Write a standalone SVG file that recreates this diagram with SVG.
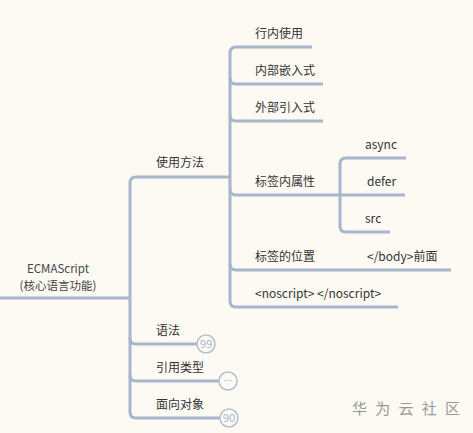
<svg xmlns="http://www.w3.org/2000/svg" width="473" height="433" viewBox="0 0 473 433">
<style>
.ln{fill:none;stroke:#a7b6ca;stroke-width:3;stroke-linecap:butt}
.t{font-family:"Noto Sans CJK SC","Microsoft YaHei",sans-serif;font-size:12px;fill:#333}
.c{fill:#fdfaf3;stroke:#b3c0d3;stroke-width:1.5}
.ct{font-family:"Noto Sans",sans-serif;font-size:11px;fill:#a9b6c9;text-anchor:middle}
.wm{font-family:"Noto Sans CJK SC",sans-serif;font-size:15px;fill:#999}
</style>
<rect width="473" height="433" fill="#fdfaf3"/>
<g id="connectors">
<path class="ln" d="M0,298 H130"/>
<path class="ln" d="M230,177 H136 Q130,177 130,183 V412 Q130,418 136,418 H220"/>
<path class="ln" d="M130,338 Q130,344 136,344 H198"/>
<path class="ln" d="M130,375 Q130,381 136,381 H219"/>
<path class="ln" d="M312,47 H236 Q230,47 230,53 V301 Q230,307 236,307 H398"/>
<path class="ln" d="M230,78 Q230,84 236,84 H323"/>
<path class="ln" d="M230,115 Q230,121 236,121 H323"/>
<path class="ln" d="M230,189 Q230,195 236,195 H405"/>
<path class="ln" d="M230,264 Q230,270 236,270 H451"/>
<path class="ln" d="M406,158 H346 Q340,158 340,164 V226 Q340,232 346,232 H390"/>
</g>
<g id="root"><text class="t" x="58" y="273" text-anchor="middle" style="font-size:11.5px;fill:#444">ECMAScript</text><text class="t" x="58" y="290" text-anchor="middle" style="font-size:11.5px;fill:#444">(核心语言功能)</text></g>
<g id="n-usage"><text class="t" x="156" y="167">使用方法</text></g>
<g id="n-inline"><text class="t" x="255" y="38">行内使用</text></g>
<g id="n-embed"><text class="t" x="255" y="75">内部嵌入式</text></g>
<g id="n-external"><text class="t" x="255" y="112">外部引入式</text></g>
<g id="n-attr"><text class="t" x="255" y="186">标签内属性</text></g>
<g id="n-async"><text class="t" x="365" y="149">async</text></g>
<g id="n-defer"><text class="t" x="367" y="186">defer</text></g>
<g id="n-src"><text class="t" x="365" y="223">src</text></g>
<g id="n-pos"><text class="t" x="255" y="261">标签的位置</text></g>
<g id="n-body"><text class="t" x="367" y="261">&lt;/body&gt;前面</text></g>
<g id="n-noscript"><text class="t" x="255" y="298" xml:space="preserve">&lt;noscript&gt; &lt;/noscript&gt;</text></g>
<g id="n-syntax"><text class="t" x="156" y="335">语法</text><circle class="c" cx="206" cy="344" r="9"/><text class="ct" x="206" y="348">99</text></g>
<g id="n-ref"><text class="t" x="156" y="372">引用类型</text><circle class="c" cx="228" cy="381" r="9"/><text class="ct" x="228" y="384">···</text></g>
<g id="n-oop"><text class="t" x="156" y="409">面向对象</text><circle class="c" cx="229" cy="418" r="9"/><text class="ct" x="229" y="422">90</text></g>
<text class="wm" x="352" y="414" textLength="108" lengthAdjust="spacing">华 为 云 社 区</text>
</svg>
